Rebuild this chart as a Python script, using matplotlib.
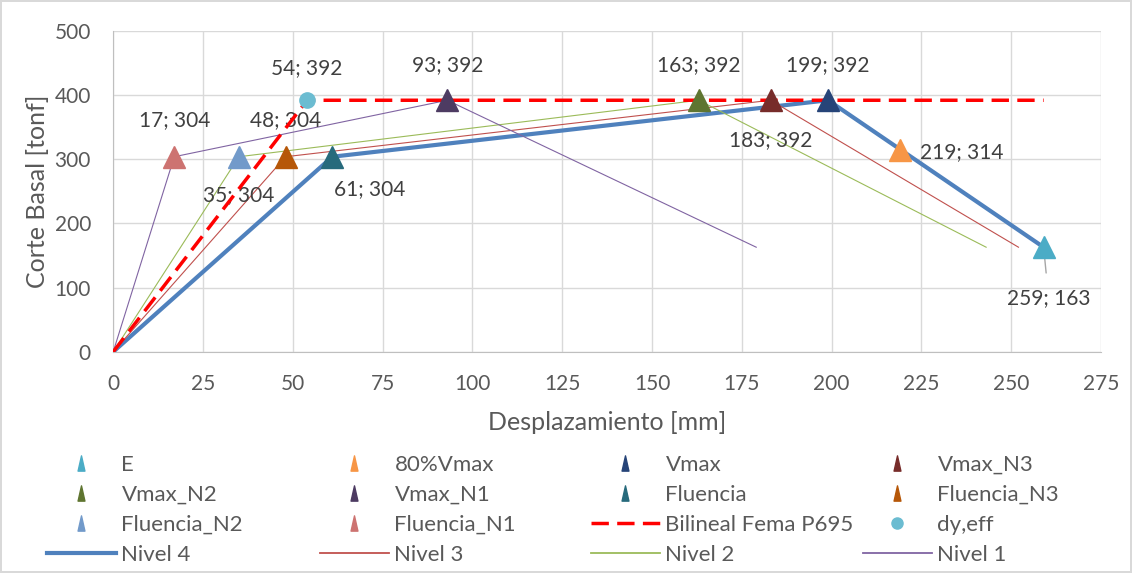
import matplotlib
matplotlib.use("Agg")
import matplotlib.pyplot as plt
from matplotlib.lines import Line2D
from matplotlib.path import Path

plt.rcParams['font.family'] = ['Lato', 'DejaVu Sans']

# Curves (desplazamiento mm, corte tonf)
n4_x = [0, 61, 199, 259]; n4_y = [0, 304, 392, 163]
n3_x = [0, 48, 183, 252]; n3_y = [0, 304, 392, 163]
n2_x = [0, 35, 163, 243]; n2_y = [0, 304, 392, 163]
n1_x = [0, 17, 93, 179];  n1_y = [0, 304, 392, 163]
bil_x = [0, 54, 259];     bil_y = [0, 392, 392]

# Points
pt_names = ['E', '80%Vmax', 'Vmax', 'Vmax_N3', 'Vmax_N2', 'Vmax_N1',
            'Fluencia', 'Fluencia_N3', 'Fluencia_N2', 'Fluencia_N1']
pt_x = [259, 219, 199, 183, 163, 93, 61, 48, 35, 17]
pt_y = [163, 314, 392, 392, 392, 392, 304, 304, 304, 304]
pt_colors = ['#4BACC6', '#F79646', '#264478', '#772C2A', '#5F7530', '#4D3B62',
             '#276A7C', '#B65708', '#729ACA', '#CD7371']
dy_x = [54]; dy_y = [392]

xticks = list(range(0, 276, 25))
yticks = list(range(0, 501, 100))

fig = plt.figure(figsize=(11.32, 5.73), dpi=100)
fig.patch.set_edgecolor('#D9D9D9')
fig.patch.set_linewidth(1.5)
ax = fig.add_axes([0.1, 0.386, 0.8727, 0.56])

narrow_tri = Path([(-0.45, -1), (0.45, -1), (0, 1), (-0.45, -1)],
                  [Path.MOVETO, Path.LINETO, Path.LINETO, Path.CLOSEPOLY])

line_styles = {
    'Nivel 4': dict(color='#4F81BD', lw=3),
    'Nivel 3': dict(color='#C0504D', lw=0.8),
    'Nivel 2': dict(color='#9BBB59', lw=0.8),
    'Nivel 1': dict(color='#8064A2', lw=0.8),
}
ax.plot(n4_x, n4_y, zorder=3, solid_joinstyle='round', **line_styles['Nivel 4'])
ax.plot(n3_x, n3_y, zorder=3, **line_styles['Nivel 3'])
ax.plot(n2_x, n2_y, zorder=3, **line_styles['Nivel 2'])
ax.plot(n1_x, n1_y, zorder=3, **line_styles['Nivel 1'])
ax.plot(bil_x, bil_y, color='#FF0000', lw=2.5, ls=(0, (5, 2.4)), zorder=4)

h = {}
for k, st in line_styles.items():
    h[k] = Line2D([], [], color=st['color'], lw=3 if k == 'Nivel 4' else 1.3)
h['Bilineal Fema P695'] = Line2D([], [], color='#FF0000', lw=2.5, ls=(0, (5, 2.4)))

for n, x, y, c in zip(pt_names, pt_x, pt_y, pt_colors):
    ax.plot([x], [y], ls='none', marker='^', ms=16, color=c, zorder=5)
    h[n] = Line2D([], [], ls='none', marker=narrow_tri, ms=11, color=c)
ax.plot(dy_x, dy_y, ls='none', marker='o', ms=11, color='#6BBCD1', zorder=6)
h['dy,eff'] = Line2D([], [], ls='none', marker='o', ms=8, color='#6BBCD1')

lbl = dict(fontsize=15, color='#404040', va='center')
def dl(x, y, dx, dy, ha='center'):
    ax.annotate(f"{x}; {y}", (x, y), xytext=(dx, dy), textcoords='offset pixels', ha=ha, **lbl)

dl(54, 392, 0, 32)
dl(93, 392, 0, 35)
dl(163, 392, 0, 35)
dl(199, 392, 0, 35)
dl(17, 304, 0, 37)
dl(48, 304, 0, 37)
dl(35, 304, 0, -38)
dl(61, 304, 37, -32)
dl(183, 392, 0, -40)
dl(219, 314, 20, -2, ha='left')
ax.annotate("259; 163", (259, 163), xytext=(5, -51), textcoords='offset pixels', ha='center',
            arrowprops=dict(arrowstyle='-', color='#A6A6A6', lw=1, shrinkA=9, shrinkB=0), **lbl)

ax.set_xlim(0, 275)
ax.set_ylim(0, 500)
ax.set_xticks(xticks)
ax.set_yticks(yticks)
ax.grid(True, color='#D9D9D9', lw=1)
ax.set_axisbelow(True)
for s in ['top', 'right']:
    ax.spines[s].set_visible(False)
for s in ['left', 'bottom']:
    ax.spines[s].set_color('#BFBFBF')
ax.tick_params(length=0, labelsize=15, labelcolor='#595959')
ax.tick_params(axis='x', pad=16)
ax.tick_params(axis='y', pad=16)
ax.set_xlabel('Desplazamiento [mm]', fontsize=18, color='#595959', labelpad=12)
ax.set_ylabel('Corte Basal [tonf]', fontsize=18, color='#595959', labelpad=4)

order = ['E', '80%Vmax', 'Vmax', 'Vmax_N3', 'Vmax_N2', 'Vmax_N1', 'Fluencia', 'Fluencia_N3',
         'Fluencia_N2', 'Fluencia_N1', 'Bilineal Fema P695', 'dy,eff',
         'Nivel 4', 'Nivel 3', 'Nivel 2', 'Nivel 1']
col_x = [47, 320, 591, 863]
for c in range(4):
    keys = [order[r * 4 + c] for r in range(4)]
    leg = fig.legend([h[k] for k in keys], keys, loc='upper left',
                     bbox_to_anchor=(col_x[c] / 1132, 1 - 455 / 573),
                     frameon=False, fontsize=16, handlelength=3.1, handletextpad=0.25,
                     labelspacing=0.45, borderaxespad=0, borderpad=0)
    for t in leg.get_texts():
        t.set_color('#595959')

fig.savefig('out.png', dpi=100, edgecolor=fig.get_edgecolor())
